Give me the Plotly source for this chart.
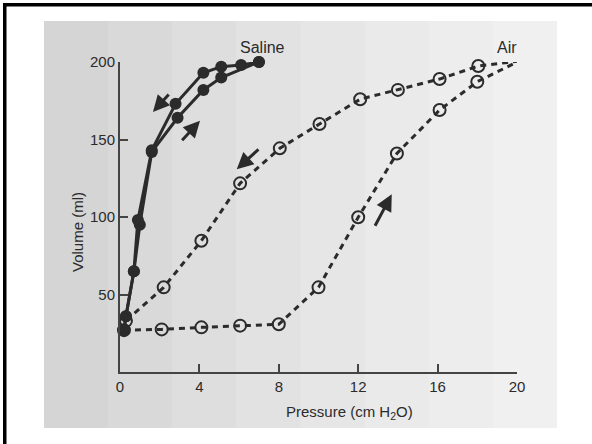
import plotly.graph_objects as go

# ---- data ----
saline_infl_p = [0.2, 0.3, 0.7, 1.0, 1.6, 2.9, 4.2, 5.1, 7.0]
saline_infl_v = [27, 36, 65, 95, 142, 164, 182, 190, 200]
saline_defl_p = [7.0, 6.1, 5.1, 4.2, 2.8, 1.6, 0.9, 0.7, 0.3, 0.2]
saline_defl_v = [200, 198, 197, 193, 173, 143, 98, 65, 36, 27]

air_infl_p = [0.2, 2.1, 4.1, 6.05, 8.0, 10.0, 12.0, 13.95, 16.1, 18.0, 20.1]
air_infl_v = [27, 27.5, 28.8, 29.9, 30.8, 54.6, 99.8, 141, 169, 187.3, 200.6]
air_defl_p = [20.1, 18.05, 16.1, 14.0, 12.1, 10.05, 8.05, 6.05, 4.1, 2.2, 0.3]
air_defl_v = [200.6, 197.4, 189, 182, 176, 160, 144.3, 121.7, 84.7, 54.6, 33]

x_ticks = [0, 4, 8, 12, 16, 20]
y_ticks = [50, 100, 150, 200]

# arrows: (tail_p, tail_v, head_p, head_v)
arrows = [
    (2.52, 180, 1.66, 167.7),
    (3.06, 148.6, 4.03, 162.1),
    (7.05, 144.5, 5.88, 130.8),
    (12.81, 93.4, 13.69, 114.6),
]

INK = "#2b2b2b"
FONT = "Liberation Sans, Arial, sans-serif"

L, T, W, H = 120, 62, 397, 310


def px(xp):
    return (xp - L) / W


def py(yp):
    return (T + H - yp) / H


fig = go.Figure()

for xs, ys in [(air_infl_p, air_infl_v), (air_defl_p, air_defl_v)]:
    fig.add_trace(go.Scatter(
        x=xs, y=ys, mode="lines+markers", cliponaxis=False,
        line=dict(color=INK, width=3, dash="6px,5px"),
        marker=dict(symbol="circle-open", size=12, color=INK, line=dict(width=2)),
        showlegend=False, hoverinfo="skip"))

for xs, ys in [(saline_infl_p, saline_infl_v), (saline_defl_p, saline_defl_v)]:
    fig.add_trace(go.Scatter(
        x=xs, y=ys, mode="lines+markers", cliponaxis=False,
        line=dict(color=INK, width=3),
        marker=dict(symbol="circle", size=12, color=INK),
        showlegend=False, hoverinfo="skip"))

annotations = []
for tp, tv, hp, hv in arrows:
    annotations.append(dict(
        x=hp, y=hv, ax=tp, ay=tv, xref="x", yref="y", axref="x", ayref="y",
        showarrow=True, arrowhead=2, arrowsize=1.1, arrowwidth=3,
        arrowcolor=INK, text=""))

annotations += [
    dict(text="Saline", x=px(262), y=py(47), xanchor="center", yanchor="middle",
         xref="paper", yref="paper", showarrow=False,
         font=dict(family=FONT, size=16, color=INK)),
    dict(text="Air", x=px(507), y=py(47), xanchor="center", yanchor="middle",
         xref="paper", yref="paper", showarrow=False,
         font=dict(family=FONT, size=16, color=INK)),
    dict(text="Pressure (cm H<sub>2</sub>O)", x=px(349), y=py(401),
         xanchor="center", yanchor="top",
         xref="paper", yref="paper", showarrow=False,
         font=dict(family=FONT, size=15, color=INK)),
    dict(text="Volume (ml)", x=px(77), y=py(232), xanchor="center", yanchor="middle",
         xref="paper", yref="paper", showarrow=False, textangle=-90,
         font=dict(family=FONT, size=15, color=INK)),
]

# scanned-page background (approximate gradient with strips)
shapes = []
x0p, x1p = 44, 557
y0p, y1p = 21, 428
greys = ["#d5d5d5", "#d9d9d9", "#dedede", "#e2e2e2", "#e6e6e6", "#eaeaea", "#ededed", "#f0f0f0"]
n = len(greys)
for i, g in enumerate(greys):
    a = x0p + (x1p - x0p) * i / n
    b = x0p + (x1p - x0p) * (i + 1) / n + 1
    shapes.append(dict(type="rect", xref="paper", yref="paper",
                       x0=px(a), x1=px(min(b, x1p)),
                       y0=py(y1p), y1=py(y0p),
                       fillcolor=g, line=dict(width=0), layer="below"))
# frame (top and left edges visible), drawn as thin filled bars
shapes.append(dict(type="rect", xref="paper", yref="paper",
                   x0=px(3), x1=px(592), y0=py(6.5), y1=py(3),
                   fillcolor="#000", line=dict(width=0)))
shapes.append(dict(type="rect", xref="paper", yref="paper",
                   x0=px(3), x1=px(6.5), y0=py(444), y1=py(3),
                   fillcolor="#000", line=dict(width=0)))

fig.update_layout(
    width=592, height=444, autosize=False,
    margin=dict(l=L, r=592 - L - W, t=T, b=444 - T - H, pad=0),
    paper_bgcolor="white", plot_bgcolor="rgba(0,0,0,0)",
    font=dict(family=FONT, size=15, color=INK),
    annotations=annotations, shapes=shapes,
    xaxis=dict(range=[0, 20], tickvals=x_ticks, ticks="inside", ticklen=8,
               tickwidth=2, tickcolor="#444", showline=True, linecolor="#444",
               linewidth=2, showgrid=False, zeroline=False,
               tickfont=dict(family=FONT, size=15, color=INK)),
    yaxis=dict(range=[0, 200], tickvals=y_ticks, ticks="inside", ticklen=8,
               tickwidth=2, tickcolor="#444", showline=True, linecolor="#444",
               linewidth=2, showgrid=False, zeroline=False,
               tickfont=dict(family=FONT, size=15, color=INK)),
)

fig.write_html("out.html", config={"displayModeBar": False},
               post_script="document.body.style.margin='0';document.body.style.overflow='hidden';")
